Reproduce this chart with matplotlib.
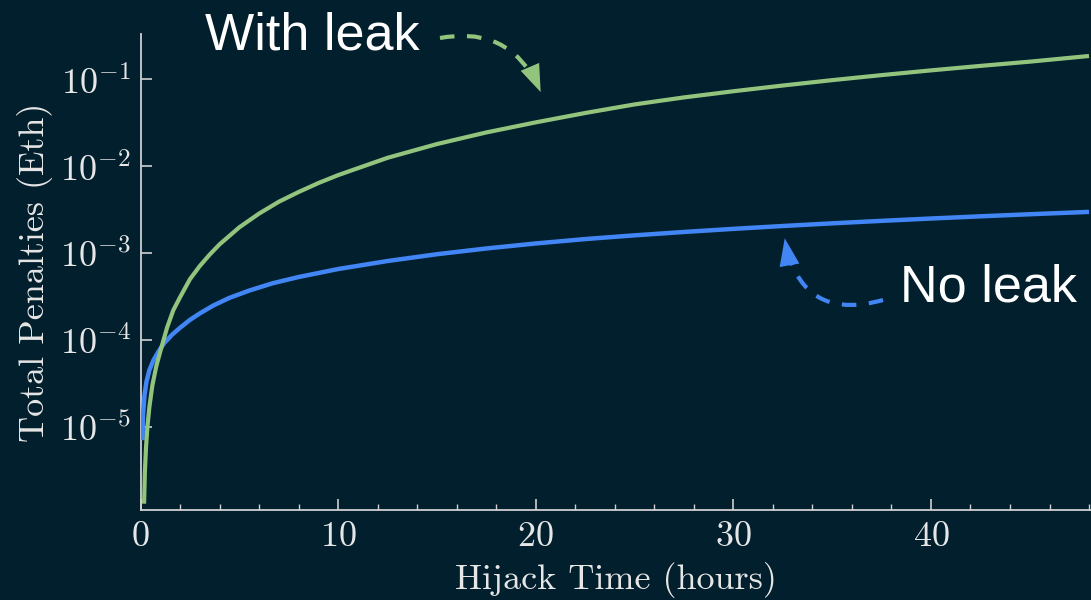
import matplotlib
matplotlib.use("Agg")
import matplotlib.pyplot as plt
from matplotlib.ticker import LogLocator, MultipleLocator, NullLocator

# ---- data ----
no_leak_hours = [0.1, 0.13, 0.2, 0.3, 0.45, 0.65, 0.9, 1.2, 1.6, 2.0, 2.5, 3.0,
                 3.7, 4.5, 5.5, 6.7, 8.0, 10.0, 12.5, 15.0, 17.5, 20.0, 22.5,
                 25.0, 27.5, 30.0, 32.5, 35.0, 37.5, 40.0, 42.5, 45.0, 48.0]
no_leak_eth = [7.0e-6, 1.4e-5, 2.3e-5, 3.3e-5, 4.5e-5, 5.8e-5, 7.3e-5, 9.2e-5,
               1.15e-4, 1.38e-4, 1.7e-4, 2.02e-4, 2.5e-4, 3.05e-4, 3.7e-4,
               4.5e-4, 5.3e-4, 6.55e-4, 8.1e-4, 9.7e-4, 1.13e-3, 1.29e-3,
               1.45e-3, 1.6e-3, 1.75e-3, 1.9e-3, 2.05e-3, 2.2e-3, 2.35e-3,
               2.5e-3, 2.65e-3, 2.8e-3, 2.98e-3]

leak_hours = [0.18, 0.22, 0.28, 0.35, 0.45, 0.6, 0.8, 1.07, 1.35, 1.66, 2.0,
              2.5, 3.0, 3.5, 4.0, 5.0, 6.0, 7.0, 8.0, 9.0, 10.0, 12.5, 15.0,
              17.5, 20.0, 22.5, 25.0, 27.5, 30.0, 32.5, 35.0, 37.5, 40.0,
              42.5, 45.0, 48.0]
leak_eth = [1.3e-6, 3.0e-6, 5.9e-6, 1.0e-5, 1.7e-5, 3.0e-5, 5.0e-5, 8.4e-5,
            1.4e-4, 2.2e-4, 3.1e-4, 5.0e-4, 7.1e-4, 9.6e-4, 1.26e-3, 1.98e-3,
            2.85e-3, 3.9e-3, 5.05e-3, 6.4e-3, 7.9e-3, 1.25e-2, 1.8e-2, 2.45e-2,
            3.2e-2, 4.1e-2, 5.15e-2, 6.2e-2, 7.3e-2, 8.5e-2, 9.8e-2, 0.112,
            0.127, 0.143, 0.16, 0.186]

x_label = "Hijack Time (hours)"
y_label = "Total Penalties (Eth)"
leak_label = "With leak"
no_leak_label = "No leak"

# ---- style ----
BG = "#011f2d"
GREEN = "#93c47d"
BLUE = "#4285f4"
FG = "#e6e6e6"
SPINE = "#d0d0d0"

plt.rcParams["font.family"] = "serif"
plt.rcParams["font.serif"] = ["cmr10"]
plt.rcParams["mathtext.fontset"] = "cm"
plt.rcParams["mathtext.default"] = "rm"
plt.rcParams["axes.formatter.use_mathtext"] = True

fig = plt.figure(figsize=(10.91, 6.0), dpi=100, facecolor=BG)
ax = fig.add_axes([0.1288, 0.15, 0.8712, 0.7933])
ax.set_facecolor(BG)

ax.plot(no_leak_hours, no_leak_eth, color=BLUE, lw=3.2, solid_capstyle="butt",
        solid_joinstyle="round", zorder=3)
ax.plot(leak_hours, leak_eth, color=GREEN, lw=3.0, solid_capstyle="butt",
        solid_joinstyle="round", zorder=4)

ax.set_yscale("log")
ax.set_xlim(0, 48.1)
ax.set_ylim(1.1e-6, 0.333)

ax.yaxis.set_major_locator(LogLocator(base=10, numticks=20))
ax.yaxis.set_minor_locator(NullLocator())
ax.xaxis.set_major_locator(MultipleLocator(10))
ax.xaxis.set_minor_locator(MultipleLocator(2))

for side in ["top", "right"]:
    ax.spines[side].set_visible(False)
for side in ["left", "bottom"]:
    ax.spines[side].set_color(SPINE)
    ax.spines[side].set_linewidth(1.3)

ax.tick_params(axis="both", which="both", direction="in", colors=SPINE,
               labelcolor=FG, labelsize=26)
ax.tick_params(axis="both", which="major", length=8, width=1.2)
ax.tick_params(axis="x", which="minor", length=4, width=1.0)
ax.tick_params(axis="x", which="major", pad=8)
ax.tick_params(axis="y", which="major", pad=7)

ax.set_xlabel(x_label, color=FG, fontsize=26, labelpad=7)
ax.set_ylabel(y_label, color=FG, fontsize=26, labelpad=5)

# ---- annotations ----
sans = ["Liberation Sans", "DejaVu Sans"]
fig.text(205 / 1091, 1 - 50 / 600, leak_label, family=sans, fontsize=37.5,
         color="white", ha="left", va="baseline")
fig.text(900 / 1091, 1 - 302 / 600, no_leak_label, family=sans, fontsize=37.5,
         color="white", ha="left", va="baseline")


def curved_arrow(tip, start, color, rad):
    head = "-|>,head_length=0.52,head_width=0.19"
    # dashed shaft
    ax.annotate("", xy=tip, xycoords="data", xytext=start,
                textcoords="figure fraction",
                arrowprops=dict(arrowstyle="-", color=color, lw=3,
                                ls=(0, (3.5, 3)), capstyle="butt",
                                connectionstyle=f"arc3,rad={rad}",
                                shrinkA=0, shrinkB=16),
                annotation_clip=False)
    # solid filled head
    ax.annotate("", xy=tip, xycoords="data", xytext=start,
                textcoords="figure fraction",
                arrowprops=dict(arrowstyle=head, mutation_scale=38,
                                color=color, lw=0,
                                connectionstyle=f"arc3,rad={rad}",
                                shrinkA=0, shrinkB=0),
                annotation_clip=False)


curved_arrow((20.25, 0.0714), (440 / 1091, 1 - 38 / 600), GREEN, -0.4)
curved_arrow((32.6, 1.48e-3), (883 / 1091, 1 - 300 / 600), BLUE, -0.55)

fig.savefig("out.png", dpi=100, facecolor=BG)
